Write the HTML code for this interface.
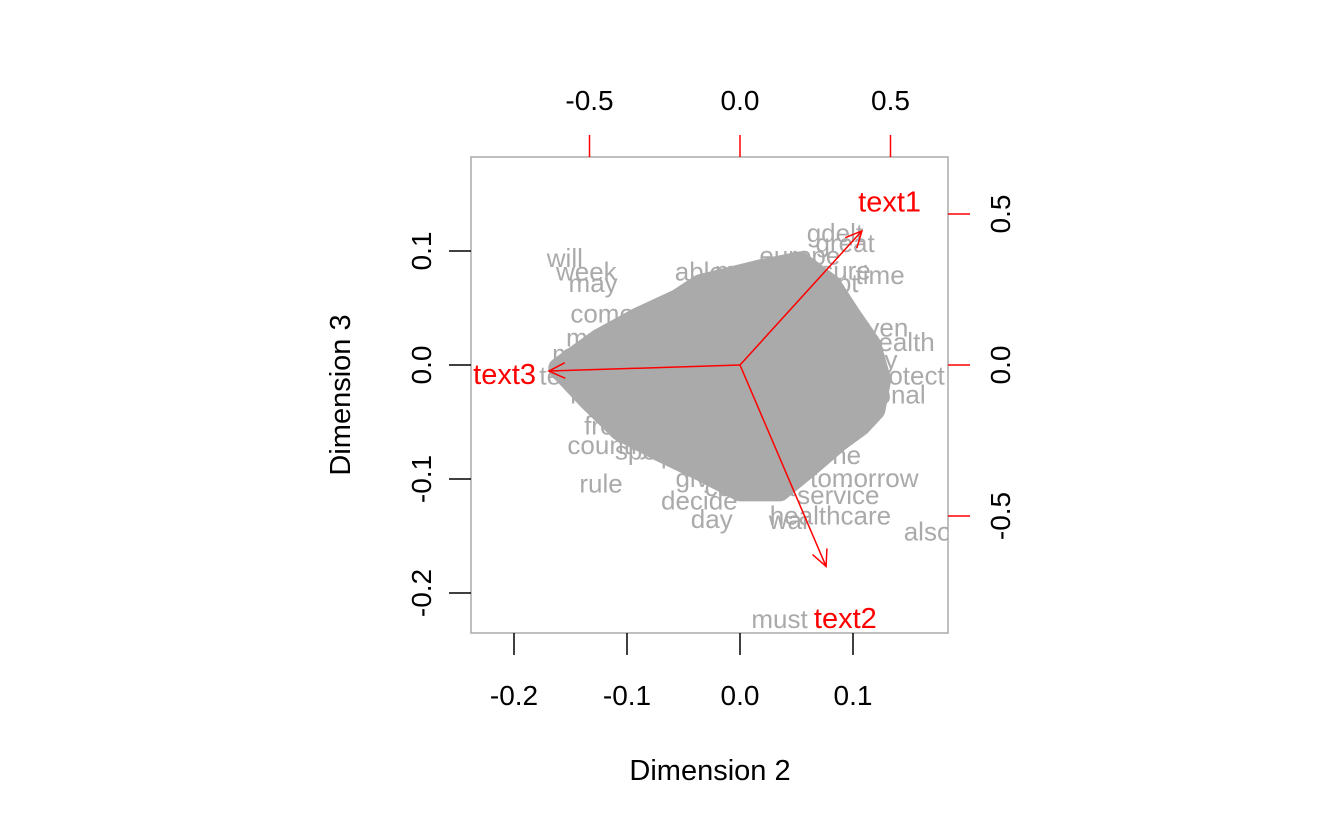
<!DOCTYPE html>
<html><head><meta charset="utf-8"><style>
html,body{margin:0;padding:0;background:#fff;}
svg{display:block;font-family:"Liberation Sans",Arial,sans-serif;}
</style></head><body>
<svg id="chart" width="1344" height="830" viewBox="0 0 1344 830" xmlns="http://www.w3.org/2000/svg">
<defs><clipPath id="pc"><rect x="471" y="157" width="477" height="476"/></clipPath></defs>
<rect x="471" y="157" width="477" height="476" fill="none" stroke="#aaaaaa" stroke-width="1.5"/>
<g id="blob" clip-path="url(#pc)"></g>
<g id="words" clip-path="url(#pc)"></g>
<g id="arrows"></g>
<g id="axes"></g>
<text x="710" y="780" font-size="29" text-anchor="middle">Dimension 2</text>
<text transform="translate(350,395) rotate(-90)" font-size="29" text-anchor="middle">Dimension 3</text>
</svg>
<script>
const bottomTicks=[-0.2,-0.1,0.0,0.1];
const bottomLabels=["-0.2","-0.1","0.0","0.1"];
const leftTicks=[-0.2,-0.1,0.0,0.1];
const leftLabels=["-0.2","-0.1","0.0","0.1"];
const topTicks=[-0.5,0.0,0.5];
const topLabels=["-0.5","0.0","0.5"];
const rightTicks=[-0.5,0.0,0.5];
const rightLabels=["-0.5","0.0","0.5"];
const words=["will","week","may","come","able","more","europe","great","gdelt","measure","time","accept","even","health","protect","national","won","said","one","tomorrow","service","healthcare","war","day","decide","give","consent","rule","country","french","remain","more","month","test","speak","must","also","public","think","people","right","law","dont","policy","state","power","need"];
const wordX=[-0.155,-0.136,-0.130,-0.122,-0.036,0.004,0.053,0.093,0.084,0.071,0.124,0.071,0.124,0.141,0.146,0.124,0.097,0.080,0.088,0.110,0.087,0.080,0.044,-0.025,-0.036,-0.036,0.009,-0.123,-0.115,-0.106,-0.115,-0.140,-0.122,-0.159,-0.080,0.035,0.166,-0.040,0.030,-0.020,0.060,-0.085,-0.060,0.110,0.050,-0.005,0.020];
const wordY=[0.094,0.082,0.072,0.045,0.082,0.083,0.096,0.107,0.116,0.083,0.079,0.072,0.033,0.020,-0.009,-0.026,-0.041,-0.059,-0.079,-0.099,-0.114,-0.132,-0.136,-0.135,-0.119,-0.099,-0.107,-0.104,-0.070,-0.053,-0.026,0.010,0.024,-0.009,-0.075,-0.223,-0.146,-0.078,-0.090,0.060,0.050,0.036,0.046,0.005,0.070,0.073,-0.093];
const blobX=[-0.160,-0.125,-0.090,-0.055,-0.035,0.018,0.053,0.080,0.097,0.115,0.124,0.119,0.106,0.088,0.062,0.035,0.000,-0.035,-0.071,-0.106,-0.133,-0.150];
const blobY=[-0.003,0.022,0.041,0.057,0.070,0.083,0.090,0.070,0.044,0.018,-0.013,-0.039,-0.053,-0.066,-0.088,-0.110,-0.110,-0.092,-0.075,-0.057,-0.031,-0.013];
const docs=["text1","text2","text3"];
const docX=[0.405,0.286,-0.635];
const docY=[0.444,-0.667,-0.020];
const docLabX=[0.497,0.350,-0.782];
const docLabY=[0.542,-0.838,-0.030];

const NS="http://www.w3.org/2000/svg";
const xs=v=>740+v*1130, ys=v=>365-v*1140;
const xt=v=>740+v*301, yt=v=>365-v*302;
function mk(tag,attrs,parent,txt){const e=document.createElementNS(NS,tag);for(const k in attrs)e.setAttribute(k,attrs[k]);if(txt!==undefined)e.textContent=txt;parent.appendChild(e);return e;}
const gray="#aaaaaa";
const blob=document.getElementById('blob');
let d=blobX.map((v,i)=>(i?'L':'M')+xs(v).toFixed(1)+','+ys(blobY[i]).toFixed(1)).join(' ')+'Z';
const bp=mk('path',{d:d,fill:gray,stroke:gray,'stroke-width':22,'stroke-linejoin':'round'},blob);


const wg=document.getElementById('words');
words.forEach((w,i)=>{const t=mk('text',{x:xs(wordX[i]),y:ys(wordY[i])+9,'font-size':26,fill:gray,'text-anchor':'middle'},wg,w);

});
const ag=document.getElementById('arrows');
docs.forEach((n,i)=>{const x1=xt(docX[i]),y1=yt(docY[i]);
const l=mk('line',{x1:740,y1:365,x2:x1,y2:y1,stroke:'#ff0000','stroke-width':1.5},ag);


const a=Math.atan2(y1-365,x1-740),L=18,s=0.45;
const h=mk('path',{d:`M${x1-L*Math.cos(a-s)},${y1-L*Math.sin(a-s)} L${x1},${y1} L${x1-L*Math.cos(a+s)},${y1-L*Math.sin(a+s)}`,fill:'none',stroke:'#ff0000','stroke-width':1.5},ag);


const g=i===2?mk('g',{'clip-path':'url(#pc)'},ag):ag;
const t=mk('text',{x:xt(docLabX[i]),y:yt(docLabY[i])+10,'font-size':29,fill:'#ff0000','text-anchor':'middle'},g,n);

});
const ax=document.getElementById('axes');
bottomTicks.forEach((v,i)=>{const x=xs(v);
const l=mk('line',{x1:x,y1:633,x2:x,y2:655,stroke:'#000','stroke-width':1.5},ax);


const t=mk('text',{x:x,y:705,'font-size':28,'text-anchor':'middle'},ax,bottomLabels[i]);

});
leftTicks.forEach((v,i)=>{const y=ys(v);
const l=mk('line',{x1:449,y1:y,x2:471,y2:y,stroke:'#000','stroke-width':1.5},ax);


const t=mk('text',{transform:`translate(431,${y}) rotate(-90)`,'font-size':28,'text-anchor':'middle'},ax,leftLabels[i]);

});
topTicks.forEach((v,i)=>{const x=xt(v);
const l=mk('line',{x1:x,y1:135,x2:x,y2:157,stroke:'#ff0000','stroke-width':1.5},ax);


const t=mk('text',{x:x,y:110,'font-size':28,'text-anchor':'middle'},ax,topLabels[i]);

});
rightTicks.forEach((v,i)=>{const y=yt(v);
const l=mk('line',{x1:948,y1:y,x2:970,y2:y,stroke:'#ff0000','stroke-width':1.5},ax);


const t=mk('text',{transform:`translate(1010,${y}) rotate(-90)`,'font-size':28,'text-anchor':'middle'},ax,rightLabels[i]);

});
</script>
</body></html>
